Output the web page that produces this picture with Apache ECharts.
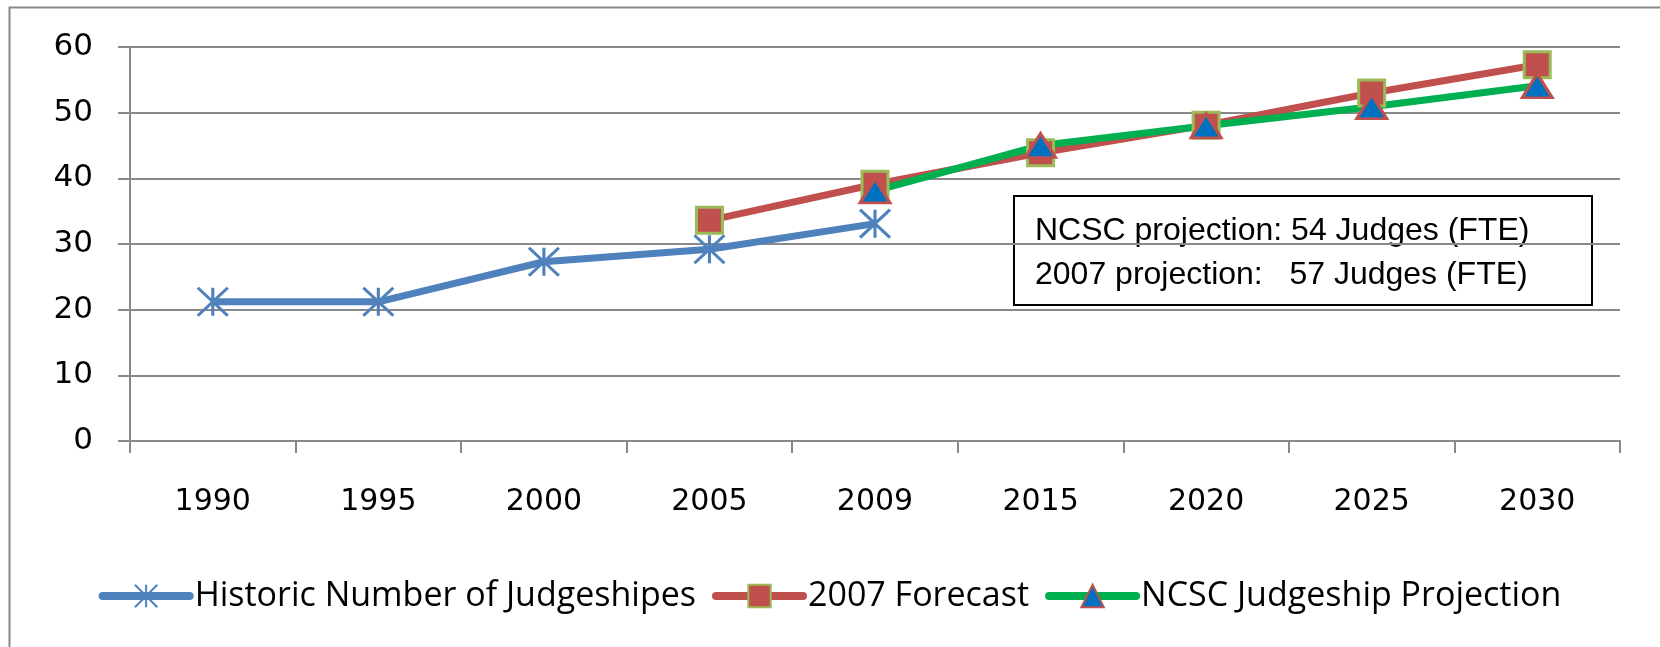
<!DOCTYPE html>
<html>
<head>
<meta charset="utf-8">
<script src="https://cdn.jsdelivr.net/npm/echarts@6/dist/echarts.min.js"></script>
<style>
  html, body { margin: 0; padding: 0; background: #fff; }
  #chart { width: 1660px; height: 647px; }
</style>
</head>
<body>
<div id="chart"></div>
<script>
// data
const years = ['1990', '1995', '2000', '2005', '2009', '2015', '2020', '2025', '2030'];
const historic = [21.2, 21.2, 27.3, 29.2, 33.1, null, null, null, null];
const forecast2007 = [null, null, null, 33.6, 39.1, 43.9, 48.1, 53.0, 57.3];
const ncscProjection = [null, null, null, null, 38.1, 45.0, 48.0, 50.9, 54.1];
const noteLines = ['NCSC projection: 54 Judges (FTE)', '2007 projection:   57 Judges (FTE)'];

const axisFont = 'DejaVu Sans';
const legendFont = 'Open Sans';
const gridGray = '#898989';

const chart = echarts.init(document.getElementById('chart'));

chart.setOption({
  animation: false,
  backgroundColor: '#fff',
  grid: { left: 130, right: 40, top: 47, bottom: 206 },
  legend: {
    bottom: 29,
    left: 'center',
    itemWidth: 87,
    itemHeight: 28,
    itemGap: 16,
    lineStyle: { width: 8, cap: 'round' },
    textStyle: { fontFamily: legendFont, fontSize: 34, color: '#000' },
    data: ['Historic Number of Judgeshipes', '2007 Forecast', 'NCSC Judgeship Projection']
  },
  xAxis: {
    type: 'category',
    data: years,
    boundaryGap: true,
    axisLine: { lineStyle: { color: gridGray, width: 2 } },
    axisTick: { show: true, length: 12, lineStyle: { color: gridGray, width: 2 } },
    axisLabel: { color: '#000', fontFamily: axisFont, fontSize: 30, margin: 46 }
  },
  yAxis: {
    type: 'value',
    min: 0,
    max: 60,
    interval: 10,
    axisLine: { show: true, lineStyle: { color: gridGray, width: 2 } },
    axisTick: { show: true, length: 12, lineStyle: { color: gridGray, width: 2 } },
    axisLabel: { color: '#000', fontFamily: axisFont, fontSize: 31, margin: 37 },
    splitLine: { lineStyle: { color: gridGray, width: 2 } }
  },
  series: [
    {
      name: 'Historic Number of Judgeshipes',
      type: 'line',
      data: historic,
      symbol: 'path://M0 0 L10 10 M10 0 L0 10 M5 0 L5 10',
      symbolSize: [30, 28],
      lineStyle: { color: '#4F81BD', width: 7 },
      itemStyle: { color: 'rgba(0,0,0,0)', borderColor: '#4F81BD', borderWidth: 3 }
    },
    {
      name: '2007 Forecast',
      type: 'line',
      data: forecast2007,
      symbol: 'rect',
      symbolSize: 26,
      lineStyle: { color: '#C0504D', width: 7 },
      itemStyle: { color: '#C0504D', borderColor: '#9BBB59', borderWidth: 3 }
    },
    {
      name: 'NCSC Judgeship Projection',
      type: 'line',
      data: ncscProjection,
      symbol: 'triangle',
      symbolSize: [30, 24],
      lineStyle: { color: '#00B050', width: 7 },
      itemStyle: { color: '#0070C0', borderColor: '#C0504D', borderWidth: 3 }
    }
  ],
  graphic: [
    {
      type: 'rect',
      left: 7, top: 5,
      shape: { width: 1700, height: 700 },
      style: { fill: 'none', stroke: '#888', lineWidth: 2 },
      silent: true
    },
    {
      type: 'group',
      left: 1013, top: 195,
      children: [
        {
          type: 'rect',
          shape: { x: 0, y: 0, width: 578, height: 109 },
          style: { fill: '#fff', stroke: '#000', lineWidth: 2 }
        },
        {
          type: 'text',
          x: 21, y: 35,
          style: { text: noteLines[0], fontFamily: 'Liberation Sans', fontSize: 32, fill: '#000', verticalAlign: 'middle' }
        },
        {
          type: 'text',
          x: 21, y: 79,
          style: { text: noteLines[1], fontFamily: 'Liberation Sans', fontSize: 32, fill: '#000', verticalAlign: 'middle' }
        }
      ]
    }
  ]
});
</script>
</body>
</html>
